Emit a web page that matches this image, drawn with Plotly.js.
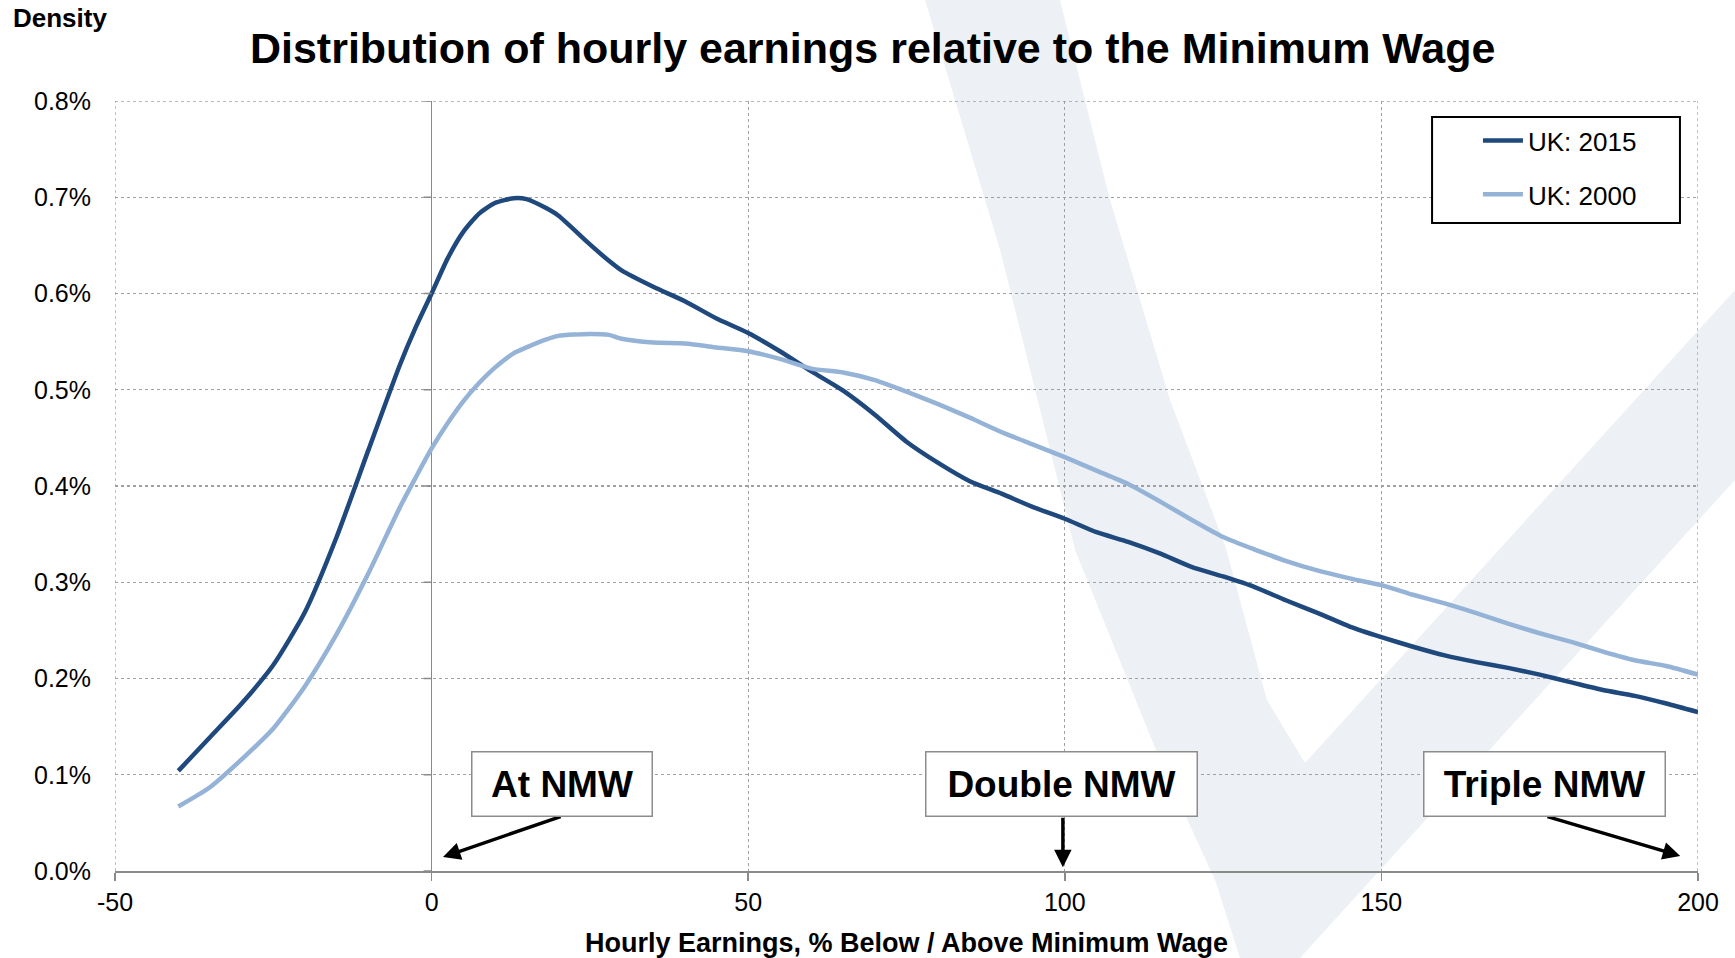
<!DOCTYPE html>
<html>
<head>
<meta charset="utf-8">
<script src="https://cdn.plot.ly/plotly-3.0.1.min.js"></script>
<style>
  html, body { margin: 0; padding: 0; background: #ffffff; }
  #chart { width: 1735px; height: 958px; }
</style>
</head>
<body>
<div id="chart"></div>
<script>
// ---- Data ----
const earningsPct = [-40, -35, -30, -25, -20, -15, -10, -5, -2.5, 0, 2.5, 5, 7.5, 10, 13, 15, 18, 20, 25, 28, 30, 35, 40, 45, 50, 55, 60, 65, 70, 75, 80, 85, 90, 95, 100, 105, 110, 115, 120, 125, 130, 135, 140, 145, 150, 155, 160, 165, 170, 175, 180, 185, 190, 195, 200];

const densityUK2015 = [0.104, 0.139, 0.174, 0.214, 0.269, 0.347, 0.437, 0.526, 0.565, 0.600, 0.636, 0.664, 0.683, 0.694, 0.699, 0.698, 0.689, 0.681, 0.651, 0.634, 0.624, 0.607, 0.592, 0.574, 0.559, 0.540, 0.519, 0.499, 0.474, 0.446, 0.424, 0.405, 0.392, 0.378, 0.366, 0.352, 0.342, 0.330, 0.316, 0.306, 0.295, 0.281, 0.268, 0.254, 0.243, 0.233, 0.224, 0.217, 0.211, 0.204, 0.196, 0.188, 0.182, 0.174, 0.165];

const densityUK2000 = [0.067, 0.087, 0.116, 0.148, 0.192, 0.246, 0.309, 0.378, 0.409, 0.439, 0.465, 0.488, 0.507, 0.523, 0.538, 0.544, 0.552, 0.556, 0.558, 0.557, 0.553, 0.549, 0.548, 0.544, 0.540, 0.532, 0.522, 0.518, 0.510, 0.498, 0.485, 0.471, 0.456, 0.443, 0.430, 0.416, 0.402, 0.384, 0.365, 0.347, 0.334, 0.322, 0.312, 0.304, 0.297, 0.287, 0.278, 0.268, 0.257, 0.247, 0.238, 0.228, 0.219, 0.213, 0.204];

const seriesNames = ["UK: 2015", "UK: 2000"];
const xTickValues = [-50, 0, 50, 100, 150, 200];
const xTickLabels = ["-50", "0", "50", "100", "150", "200"];
const yTickValues = [0, 0.1, 0.2, 0.3, 0.4, 0.5, 0.6, 0.7, 0.8];
const yTickLabels = ["0.0%", "0.1%", "0.2%", "0.3%", "0.4%", "0.5%", "0.6%", "0.7%", "0.8%"];

const markerLabels = ["At NMW", "Double NMW", "Triple NMW"];
const markerTargetsX = [1.8, 99.7, 197.2];
const markerTargetsY = [0.0145, 0.004, 0.0156];

// ---- Styling ----
const FONT = "Liberation Sans, Arial, sans-serif";
const DARK = "#1F497D";
const LIGHT = "#95B3D7";
const GRID = "#a0a0a0";
const AXIS = "#8a8a8a";

const traces = [
  {
    x: earningsPct, y: densityUK2015, name: seriesNames[0], legendgroup: "a",
    type: "scatter", mode: "lines",
    line: { color: DARK, width: 4.5, shape: "spline", smoothing: 0.6 }
  },
  {
    x: earningsPct, y: densityUK2000, name: seriesNames[1], legendgroup: "b",
    type: "scatter", mode: "lines",
    line: { color: LIGHT, width: 4.5, shape: "spline", smoothing: 0.6 }
  }
];

// Watermark logo (decorative background "V"), paper coordinates
const watermarkPath = "M0.5117,1.1312 L0.5591,0.8065 L0.6065,0.4169 L0.6601,0.1442 L0.6949,-0.0117 L0.7107,-0.1130 L0.7486,-0.1130 L1.0234,0.5078 L1.0234,0.7545 L0.7517,0.1403 L0.7277,0.2221 L0.7018,0.4195 L0.6665,0.6117 L0.6286,0.8714 L0.5970,1.1312 Z";

const shapes = [
  { type: "path", xref: "paper", yref: "paper", path: watermarkPath,
    fillcolor: "#edf1f5", line: { width: 0 }, layer: "below" }
];
// dotted gridlines on the plot edges (first/last x ticks, top y tick)
[xTickValues[0], xTickValues[xTickValues.length - 1]].forEach(v => {
  shapes.push({ type: "line", xref: "x", yref: "paper", x0: v, x1: v, y0: 0, y1: 1,
    line: { color: GRID, width: 1.3, dash: "dot" }, layer: "below" });
});
shapes.push({ type: "line", xref: "paper", yref: "y", x0: 0, x1: 1,
  y0: yTickValues[yTickValues.length - 1], y1: yTickValues[yTickValues.length - 1],
  line: { color: GRID, width: 1.3, dash: "dot" }, layer: "below" });
// small y-axis tick marks where the value axis crosses at x = 0
yTickValues.forEach(v => {
  shapes.push({ type: "line", xref: "x", xsizemode: "pixel", xanchor: 0, x0: -8, x1: 0,
    yref: "y", y0: v, y1: v, line: { color: AXIS, width: 1.5 }, layer: "above" });
});
// legend frame
shapes.push({ type: "rect", xref: "paper", yref: "paper",
  x0: 0.8320, x1: 0.9886, y0: 0.8416, y1: 0.9792,
  fillcolor: "#ffffff", line: { color: "#000000", width: 2 }, layer: "above" });

// label boxes and arrows
const boxCentersX = [20.67, 99.4, 175.8];
const boxWidths = [175, 266, 236];
const arrowTailsX = [20.6, 99.7, 176.0];
const annotations = [
  { xref: "paper", yref: "paper", x: -0.0657, y: 1.108, xanchor: "left", yanchor: "middle",
    text: "Density", showarrow: false,
    font: { family: FONT, size: 26, color: "#000", weight: 700 } }
];
markerLabels.forEach((lab, i) => {
  annotations.push({
    xref: "x", yref: "y", x: markerTargetsX[i], y: markerTargetsY[i],
    axref: "x", ayref: "y", ax: arrowTailsX[i], ay: 0.057,
    text: "", showarrow: true, arrowhead: 2, arrowsize: 1, arrowwidth: 3.5,
    arrowcolor: "#000", standoff: 0, startstandoff: 0
  });
  annotations.push({
    xref: "x", yref: "y", x: boxCentersX[i], y: 0.0909, xanchor: "center", yanchor: "middle",
    text: lab, showarrow: false, width: boxWidths[i], height: 59,
    bgcolor: "#ffffff", bordercolor: "#8c8c8c", borderwidth: 1.5, borderpad: 2,
    font: { family: FONT, size: 37, color: "#000", weight: 700 }
  });
});

const layout = {
  width: 1735, height: 958,
  margin: { l: 115, r: 37, t: 101, b: 87 },
  paper_bgcolor: "#ffffff",
  plot_bgcolor: "rgba(0,0,0,0)",
  font: { family: FONT, color: "#000" },
  title: {
    text: "Distribution of hourly earnings relative to the Minimum Wage",
    font: { family: FONT, size: 43, color: "#000", weight: 700 },
    xref: "container", x: 0.503, xanchor: "center",
    yref: "container", y: 0.95, yanchor: "middle"
  },
  xaxis: {
    range: [-50, 200], tickmode: "array", tickvals: xTickValues, ticktext: xTickLabels,
    showgrid: true, gridcolor: GRID, griddash: "dot", gridwidth: 1.3,
    zeroline: true, zerolinecolor: AXIS, zerolinewidth: 1.5,
    showline: true, linecolor: AXIS, linewidth: 2,
    ticks: "outside", ticklen: 8, tickwidth: 1.5, tickcolor: AXIS,
    tickfont: { family: FONT, size: 25, color: "#000" },
    title: { text: "Hourly Earnings, % Below / Above Minimum Wage",
      font: { family: FONT, size: 27, color: "#000", weight: 700 }, standoff: 18 },
    fixedrange: true
  },
  yaxis: {
    range: [0, 0.8], tickmode: "array", tickvals: yTickValues, ticktext: yTickLabels,
    showgrid: true, gridcolor: GRID, griddash: "dot", gridwidth: 1.3,
    zeroline: false, showline: false, ticks: "",
    ticklabelstandoff: 23,
    tickfont: { family: FONT, size: 25, color: "#000" },
    fixedrange: true
  },
  showlegend: true,
  legend: {
    x: 0.861, y: 0.979, xanchor: "left", yanchor: "top",
    bgcolor: "rgba(0,0,0,0)", borderwidth: 0,
    font: { family: FONT, size: 26, color: "#000" },
    tracegroupgap: 17, itemwidth: 40
  },
  shapes: shapes,
  annotations: annotations
};

Plotly.newPlot("chart", traces, layout, { displayModeBar: false, staticPlot: true });
</script>
</body>
</html>
